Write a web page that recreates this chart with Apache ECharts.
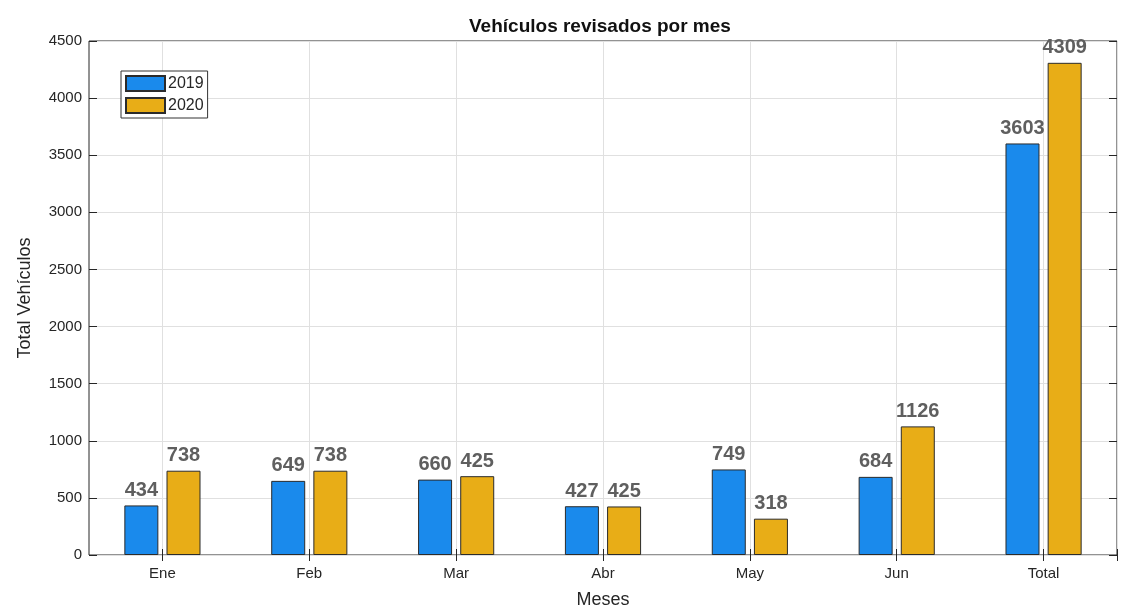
<!DOCTYPE html>
<html>
  <head>
    <meta charset="utf-8" />
    <title>Vehículos revisados por mes</title>
    <style type="text/css">
      html,
      body {
        width: 100%;
        height: 100%;
        margin: 0px;
        background: #ffffff;
      }

      #chart {
        width: 1132px;
        height: 608px;
      }
    </style>
    <script type="text/javascript" src="https://cdn.jsdelivr.net/npm/echarts@6/dist/echarts.min.js"></script>
  </head>

  <body>
    <div id="chart"></div>
    <script>
      // datos
      const meses = ["Ene", "Feb", "Mar", "Abr", "May", "Jun", "Total"];
      const valores2019 = [434, 649, 660, 427, 749, 684, 3603];
      const valores2020 = [738, 738, 690, 425, 318, 1126, 4309];
      // etiquetas tal como aparecen (Mar 2020 dice 425 aunque la barra mide ~690)
      const etiquetas2019 = ["434", "649", "660", "427", "749", "684", "3603"];
      const etiquetas2020 = ["738", "738", "425", "425", "318", "1126", "4309"];
      const yTicks = [0, 500, 1000, 1500, 2000, 2500, 3000, 3500, 4000, 4500];

      const fuente = "Liberation Sans, Arial, Helvetica, sans-serif";
      const colorTexto = "#262626";
      const colorEje = "#262626";
      const colorRejilla = "#e0e0e0";

      // eje auxiliar de medias categorías: sirve para poner la rejilla
      // y las marcas en el centro de cada mes (como en MATLAB)
      const medias = [];
      meses.forEach((m) => medias.push(m + "a", m + "b"));
      const enCentro = (i) => i % 2 === 1 && i < medias.length;

      const myChart = echarts.init(document.getElementById("chart"), null, {
        renderer: "canvas",
      });

      const etiqueta = (textos) => ({
        show: true,
        position: "top",
        distance: 5,
        color: "#5f5f5f",
        fontFamily: fuente,
        fontSize: 20,
        fontWeight: "bold",
        formatter: (p) => textos[p.dataIndex],
      });

      // eje de medias categorías (sin texto), arriba o abajo
      const ejeMedias = (pos, rejilla) => ({
        type: "category",
        data: medias,
        position: pos,
        axisLine: { show: false },
        axisLabel: { show: false },
        axisTick: {
          show: true,
          inside: true,
          length: 6,
          interval: enCentro,
          lineStyle: { color: colorEje },
        },
        splitLine: {
          show: rejilla,
          interval: enCentro,
          lineStyle: { color: colorRejilla },
        },
      });

      // eje de valores (marcas hacia dentro), izquierda o derecha
      const ejeValores = (pos, extra) =>
        Object.assign(
          {
            type: "value",
            min: yTicks[0],
            max: yTicks[yTicks.length - 1],
            interval: 500,
            position: pos,
            axisLine: { show: false },
            axisLabel: { show: false },
            axisTick: {
              show: true,
              inside: true,
              length: 8,
              lineStyle: { color: colorEje },
            },
            splitLine: { show: false },
          },
          extra
        );

      const option = {
        backgroundColor: "#ffffff",
        animation: false,
        title: {
          text: "Vehículos revisados por mes",
          left: 464,
          top: 12,
          textStyle: {
            fontFamily: fuente,
            fontSize: 19,
            fontWeight: "bold",
            color: "#111111",
          },
        },
        legend: {
          orient: "vertical",
          left: 121,
          top: 71,
          padding: [4, 4, 4, 4],
          itemWidth: 39,
          itemHeight: 15,
          itemGap: 5,
          backgroundColor: "#ffffff",
          borderColor: "#333333",
          borderWidth: 1,
          borderRadius: 0,
          icon: "rect",
          textStyle: {
            fontFamily: fuente,
            fontSize: 16,
            color: colorTexto,
            padding: [0, 0, 0, -2],
          },
          data: ["2019", "2020"],
        },
        grid: {
          left: 89,
          right: 15,
          top: 41,
          bottom: 53,
          outerBoundsMode: "none",
          show: true,
          borderColor: colorEje,
          borderWidth: 1,
          backgroundColor: "transparent",
        },
        xAxis: [
          {
            type: "category",
            data: meses,
            name: "Meses",
            nameLocation: "middle",
            nameGap: 36,
            nameTextStyle: {
              fontFamily: fuente,
              fontSize: 18,
              color: colorTexto,
            },
            axisLine: { show: false },
            axisTick: { show: false },
            axisLabel: {
              margin: 11,
              fontFamily: fuente,
              fontSize: 15,
              color: colorTexto,
            },
            splitLine: { show: false },
          },
          ejeMedias("top", true),
          ejeMedias("bottom", false),
        ],
        yAxis: [
          ejeValores("left", {
            name: "Total Vehículos",
            nameLocation: "middle",
            nameGap: 55,
            nameTextStyle: {
              fontFamily: fuente,
              fontSize: 18,
              color: colorTexto,
            },
            axisLabel: {
              show: true,
              margin: 7,
              fontFamily: fuente,
              fontSize: 15,
              color: colorTexto,
              formatter: (v) => String(v),
            },
            splitLine: {
              show: true,
              lineStyle: { color: colorRejilla },
            },
          }),
          ejeValores("right", {}),
        ],
        series: [
          {
            name: "2019",
            type: "bar",
            data: valores2019,
            barWidth: 34,
            barGap: "24%",
            itemStyle: {
              color: "#1a8aec",
              borderColor: "#2b2b2b",
              borderWidth: 1,
            },
            label: etiqueta(etiquetas2019),
          },
          {
            name: "2020",
            type: "bar",
            data: valores2020,
            barWidth: 34,
            barGap: "24%",
            itemStyle: {
              color: "#e8ad17",
              borderColor: "#2b2b2b",
              borderWidth: 1,
            },
            label: etiqueta(etiquetas2020),
          },
        ],
      };

      myChart.setOption(option);
    </script>
  </body>
</html>
